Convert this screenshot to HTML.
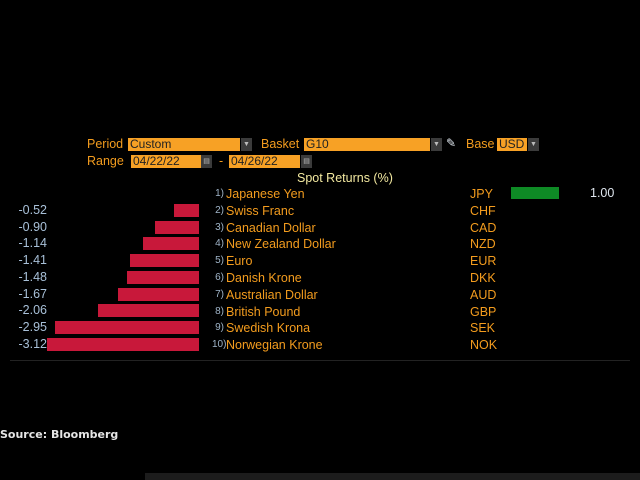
<!DOCTYPE html><html><head><style>
body{margin:0;width:640px;height:480px;background:#000;position:relative;overflow:hidden;font-family:"Liberation Sans",sans-serif;font-size:12.5px}
.a{position:absolute;white-space:nowrap}
.o{color:#f39c1e}.w{color:#dfe6ee}.b{color:#9fb4c8}
.box{position:absolute;background:#f7a125;color:#222;height:13px;line-height:13px;font-size:12px;padding-left:2px;box-sizing:border-box}
.dd{position:absolute;background:#3b3b3b;height:13px;width:11px;color:#bbb;font-size:7px;text-align:center;line-height:13px}
.bar{position:absolute;background:#c8183a;height:13px}
.v{position:absolute;right:593px;color:#a8c0d8;text-align:right}
</style></head><body>
<div class="a o" style="left:87px;top:137px">Period</div>
<div class="box" style="left:128px;top:138px;width:112px">Custom</div><div class="dd" style="left:241px;top:138px">▼</div>
<div class="a o" style="left:261px;top:137px">Basket</div>
<div class="box" style="left:304px;top:138px;width:126px">G10</div><div class="dd" style="left:431px;top:138px">▼</div>
<div class="a w" style="left:446px;top:136px;font-size:12px">✎</div>
<div class="a o" style="left:466px;top:137px">Base</div>
<div class="box" style="left:497px;top:138px;width:30px">USD</div><div class="dd" style="left:528px;top:138px">▼</div>
<div class="a o" style="left:87px;top:154px">Range</div>
<div class="box" style="left:131px;top:155px;width:70px">04/22/22</div><div class="dd" style="left:201px;top:155px">▤</div>
<div class="a o" style="left:219px;top:154px">-</div>
<div class="box" style="left:229px;top:155px;width:71px">04/26/22</div><div class="dd" style="left:301px;top:155px">▤</div>
<div class="a" style="left:297px;top:171px;color:#f3e9a0">Spot Returns (%)</div>
<div class="a" style="left:511px;top:187px;width:48px;height:12px;background:#0e8a25"></div>
<div class="a w" style="left:590px;top:186px">1.00</div>
<div style="position:absolute;left:0;top:0">
<div class="bar" style="left:174px;top:204px;width:25px"></div>
<div class="bar" style="left:155px;top:221px;width:44px"></div>
<div class="bar" style="left:143px;top:237px;width:56px"></div>
<div class="bar" style="left:130px;top:254px;width:69px"></div>
<div class="bar" style="left:127px;top:271px;width:72px"></div>
<div class="bar" style="left:118px;top:288px;width:81px"></div>
<div class="bar" style="left:98px;top:304px;width:101px"></div>
<div class="bar" style="left:55px;top:321px;width:144px"></div>
<div class="bar" style="left:47px;top:338px;width:152px"></div>
</div>
<div class="v" style="top:203px">-0.52</div><div class="v" style="top:220px">-0.90</div><div class="v" style="top:236px">-1.14</div><div class="v" style="top:253px">-1.41</div><div class="v" style="top:270px">-1.48</div><div class="v" style="top:287px">-1.67</div><div class="v" style="top:303px">-2.06</div><div class="v" style="top:320px">-2.95</div><div class="v" style="top:337px">-3.12</div>
<div class="a" style="left:0;top:186px;line-height:16.8px">
<div style="position:absolute;left:212px;width:12px;text-align:right;color:#9fb4c8;font-size:10px">1)<br>2)<br>3)<br>4)<br>5)<br>6)<br>7)<br>8)<br>9)<br>10)</div>
<div class="o" style="position:absolute;left:226px">Japanese Yen<br>Swiss Franc<br>Canadian Dollar<br>New Zealand Dollar<br>Euro<br>Danish Krone<br>Australian Dollar<br>British Pound<br>Swedish Krona<br>Norwegian Krone</div>
<div class="o" style="position:absolute;left:470px">JPY<br>CHF<br>CAD<br>NZD<br>EUR<br>DKK<br>AUD<br>GBP<br>SEK<br>NOK</div>
</div>
<div class="a" style="left:10px;top:360px;width:620px;height:1px;background:#222"></div>
<div class="a" style="left:0;top:428px;color:#e6e6e6;font-weight:bold;font-size:11px;font-family:'DejaVu Sans',sans-serif">Source: Bloomberg</div>
<div class="a" style="left:145px;top:473px;width:495px;height:7px;background:#1c1c1c"></div>
</body></html>
